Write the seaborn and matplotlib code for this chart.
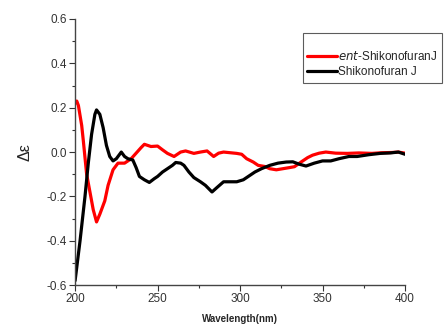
import numpy as np
import pandas as pd
import matplotlib
matplotlib.use('Agg')
import matplotlib.pyplot as plt
import seaborn as sns
from matplotlib.ticker import MultipleLocator

# CD spectra
wl_ent = [200, 201, 202, 204, 205, 207, 209, 211, 213, 215, 218, 220, 223, 226, 230,
          234, 237, 240, 242, 246, 250, 253, 256, 260, 264, 267, 272, 276, 280, 284,
          287, 290, 294, 298, 301, 304, 308, 311, 315, 318, 322, 326, 330, 333, 337,
          341, 344, 348, 352, 358, 365, 372, 380, 386, 392, 396, 400]
cd_ent = [0.22, 0.23, 0.21, 0.12, 0.05, -0.10, -0.18, -0.26, -0.315, -0.28, -0.22, -0.15,
          -0.08, -0.05, -0.05, -0.03, -0.005, 0.02, 0.035, 0.025, 0.027, 0.01, -0.006,
          -0.02, 0.0, 0.005, -0.006, 0.0, 0.005, -0.02, -0.005, 0.0, -0.003, -0.006,
          -0.01, -0.03, -0.045, -0.06, -0.065, -0.075, -0.08, -0.075, -0.07, -0.066,
          -0.045, -0.025, -0.014, -0.005, 0.0, -0.005, -0.006, -0.004, -0.006, -0.003,
          -0.002, 0.0, -0.005]

wl_nat = [200, 201, 203, 206, 208, 210, 212, 213, 215, 217, 219, 221, 223, 225, 228,
          230, 232, 235, 237, 239, 242, 245, 248, 250, 253, 256, 259, 261, 264, 266,
          269, 272, 276, 279, 283, 286, 290, 294, 298, 302, 305, 309, 313, 318, 323,
          328, 332, 336, 340, 345, 350, 355, 360, 366, 371, 378, 385, 391, 396, 400]
cd_nat = [-0.58, -0.52, -0.40, -0.20, -0.05, 0.08, 0.17, 0.19, 0.17, 0.11, 0.03, -0.02,
          -0.04, -0.03, 0.0, -0.02, -0.03, -0.036, -0.07, -0.11, -0.125, -0.137, -0.12,
          -0.11, -0.09, -0.075, -0.06, -0.047, -0.05, -0.06, -0.09, -0.115, -0.134,
          -0.15, -0.18, -0.16, -0.134, -0.134, -0.134, -0.125, -0.11, -0.09, -0.075,
          -0.06, -0.05, -0.045, -0.044, -0.055, -0.063, -0.05, -0.04, -0.04, -0.03,
          -0.02, -0.02, -0.012, -0.006, -0.004, 0.0, -0.01]

labels = ['$\\it{ent}$-ShikonofuranJ', 'Shikonofuran J']
colors = ['#ff0000', '#000000']

df = pd.concat([
    pd.DataFrame({'Wavelength': wl_ent, 'CD': cd_ent, 'Compound': labels[0]}),
    pd.DataFrame({'Wavelength': wl_nat, 'CD': cd_nat, 'Compound': labels[1]}),
])

sns.set_style('ticks')
plt.rcParams['font.family'] = ['Liberation Sans', 'DejaVu Sans']

fig = plt.figure(figsize=(4.47, 3.27), dpi=100)
ax = fig.add_axes([0.168, 0.128, 0.738, 0.814])

sns.lineplot(data=df, x='Wavelength', y='CD', hue='Compound', palette=colors,
             linewidth=2.3, ax=ax, sort=False, estimator=None)

ax.set_xlim(200, 400)
ax.set_ylim(-0.6, 0.6)
ax.xaxis.set_major_locator(MultipleLocator(50))
ax.xaxis.set_minor_locator(MultipleLocator(25))
ax.yaxis.set_major_locator(MultipleLocator(0.2))
ax.yaxis.set_minor_locator(MultipleLocator(0.1))
ax.yaxis.set_major_formatter(matplotlib.ticker.FormatStrFormatter('%.1f'))
ax.tick_params(which='major', direction='out', length=4, width=0.8, labelsize=8.5,
               colors='#333333', pad=2)
ax.tick_params(which='minor', direction='out', length=2, width=0.8, colors='#333333')
for s in ['left', 'bottom']:
    ax.spines[s].set_color('#444444')
    ax.spines[s].set_linewidth(1.0)
sns.despine(ax=ax)

ax.set_xlabel('Wavelength(nm)', fontsize=7, fontweight='bold', labelpad=6)
ax.set_ylabel('Δε', fontsize=11.5, labelpad=10)

leg = ax.legend(loc='upper left', bbox_to_anchor=(0.677, 0.898),
                bbox_transform=fig.transFigure, title=' ', fontsize=8.5,
                title_fontsize=8, frameon=True, fancybox=False,
                handlelength=2.5, handletextpad=0.1, borderpad=0.4,
                labelspacing=0.2, borderaxespad=0)
leg.get_frame().set_edgecolor('#333333')
leg.get_frame().set_linewidth(0.8)

fig.savefig('out.png', dpi=100)
